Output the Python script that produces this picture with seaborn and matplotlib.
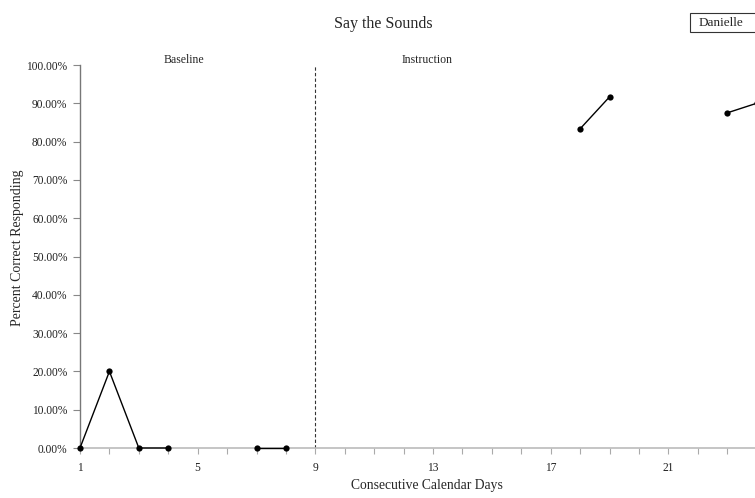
import matplotlib
matplotlib.use("Agg")
import matplotlib.pyplot as plt
from matplotlib.patches import Rectangle
import pandas as pd
import seaborn as sns

# Session data: day of the study, percent correct, and the run each point belongs to
days = [1, 2, 3, 4, 7, 8, 18, 19, 23, 24]
percent_correct = [0.0, 20.0, 0.0, 0.0, 0.0, 0.0, 83.33, 91.67, 87.5, 90.0]
segments = [1, 1, 1, 1, 2, 2, 3, 3, 4, 4]

phase_labels = ["Baseline", "Instruction"]
phase_label_days = [4.52, 12.8]
phase_change_day = 9

x_ticks = [1, 5, 9, 13, 17, 21]
y_ticks = [0, 10, 20, 30, 40, 50, 60, 70, 80, 90, 100]

df = pd.DataFrame({"day": days, "pct": percent_correct, "segment": segments})

sns.set_theme(style="white")
plt.rcParams["font.family"] = ["Liberation Serif", "DejaVu Serif"]

W, H = 755, 498
fig = plt.figure(figsize=(W / 100, H / 100), dpi=100)
# axes run past the right edge of the figure
ax = fig.add_axes([80 / W, 50 / H, 706 / W, 383 / H])

sns.lineplot(data=df, x="day", y="pct", units="segment", estimator=None,
             color="black", marker="o", markersize=4.5, markeredgewidth=0,
             linewidth=1.0, ax=ax, clip_on=False, zorder=5)

ax.set_xlim(1, 25)
ax.set_ylim(0, 100)
ax.set_xticks(x_ticks)
ax.set_xticks(range(1, 26), minor=True)
ax.set_yticks(y_ticks)
ax.set_yticklabels([f"{v:.2f}%" for v in y_ticks], fontsize=8.3, color="#222222")
ax.set_xticklabels([str(v) for v in x_ticks], fontsize=8.3, color="#222222")

for s in ["top", "right"]:
    ax.spines[s].set_visible(False)
ax.spines["left"].set_color("#777777")
ax.spines["left"].set_linewidth(1.0)
ax.spines["bottom"].set_color("#bbbbbb")
ax.spines["bottom"].set_linewidth(1.2)

ax.tick_params(axis="y", which="major", direction="out", length=5, width=0.8,
               color="#888888", left=True, pad=4)
ax.tick_params(axis="x", which="both", direction="out", length=4, width=0.8,
               color="#aaaaaa", bottom=True, pad=6)

ax.axvline(phase_change_day, color="#333333", linestyle=(0, (3, 2)), linewidth=0.8)
for label, d in zip(phase_labels, phase_label_days):
    ax.text(d, 101.2, label, ha="center", va="center", fontsize=8.5)

ax.set_xlabel("Consecutive Calendar Days", fontsize=9.8)
ax.set_ylabel("Percent Correct Responding", fontsize=10)
ax.xaxis.set_label_coords((427 - 80) / 706, (498 - 485 - 50) / 383)
ax.xaxis.label.set_va("center")
ax.yaxis.set_label_coords((18 - 80) / 706, (498 - 248 - 50) / 383)
ax.yaxis.label.set_va("center")

fig.text(383 / W, 1 - 24 / H, "Say the Sounds", ha="center", va="center", fontsize=11.5)

# name box in the top-right corner
fig.patches.append(Rectangle((690 / W, 1 - 32 / H), 70 / W, 19 / H,
                             transform=fig.transFigure, facecolor="white",
                             edgecolor="#333333", linewidth=0.8))
fig.text(721 / W, 1 - 22.5 / H, "Danielle", ha="center", va="center", fontsize=9.5)

fig.savefig("out.png", dpi=100)
